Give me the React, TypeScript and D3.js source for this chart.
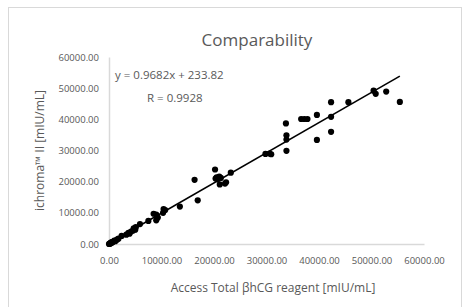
import * as d3 from 'd3';
import { useEffect, useRef } from 'react';

// Access Total βhCG (x) vs ichroma II (y), mIU/mL
const accessValues = [
    0, 100, 200, 300, 400, 500, 600, 800, 1000, 1200, 1500, 1800, 2400, 3300, 3700, 3900,
    4200, 4600, 4700, 5000, 5100, 5900, 7500, 8500, 9000, 9300, 9000, 10300, 10400, 10700, 13500,
    16300, 16900, 20200, 20300, 20500, 20700, 21000, 21300, 21100, 22100, 22300, 23200,
    29800, 30600, 30900,
    33700, 33800, 33800, 33800, 36600, 37200, 37800, 39600, 39600,
    42300, 42300, 42300, 45600, 50400, 50800, 52800, 55400,
];
const ichromaValues = [
    0, 150, 120, 400, 300, 600, 500, 700, 1100, 900, 1400, 1700, 2600, 3000, 3600, 3300,
    4000, 4300, 5000, 4600, 5400, 6400, 7400, 9700, 9400, 8500, 7600, 10000, 11200, 10900, 12000,
    20600, 14000, 23900, 21000, 21400, 20800, 21600, 21200, 19100, 19400, 19800, 22900,
    28900, 29000, 28800,
    38700, 34900, 33500, 29900, 40100, 40100, 40100, 41400, 33400,
    45500, 40800, 36000, 45500, 49200, 48200, 48900, 45600,
];
const tickValues = [0, 10000, 20000, 30000, 40000, 50000, 60000];
const slope = 0.9682;
const intercept = 233.82;
const rValue = 0.9928;

const font = "'Open Sans', sans-serif";
const textColor = '#595959';
const lineColor = '#d9d9d9';

export default function App() {
    const ref = useRef<SVGSVGElement | null>(null);

    useEffect(() => {
        const svg = d3.select(ref.current);
        svg.selectAll('*').remove();

        const width = 465;
        const height = 307;
        const margin = { top: 57, right: 41, bottom: 63, left: 109 };

        const x = d3.scaleLinear().domain([0, 60000]).range([margin.left, width - margin.right]);
        const y = d3.scaleLinear().domain([0, 60000]).range([height - margin.bottom, margin.top]);

        svg.attr('width', width).attr('height', height);

        svg.append('rect')
            .attr('x', 8.5).attr('y', 7.5)
            .attr('width', 453).attr('height', 310)
            .attr('fill', '#fff')
            .attr('stroke', lineColor);

        svg.append('text')
            .attr('x', 257).attr('y', 46)
            .attr('text-anchor', 'middle')
            .attr('font-family', font).attr('font-size', 17)
            .attr('fill', textColor)
            .text('Comparability');

        const xAxis = svg.append('g')
            .attr('transform', `translate(0,${height - margin.bottom})`)
            .call(d3.axisBottom(x).tickValues(tickValues).tickSize(0).tickPadding(13).tickFormat(d3.format('.2f')));
        const yAxis = svg.append('g')
            .attr('transform', `translate(${margin.left},0)`)
            .call(d3.axisLeft(y).tickValues(tickValues).tickSize(0).tickPadding(10).tickFormat(d3.format('.2f')));

        [xAxis, yAxis].forEach(g => {
            g.select('.domain').attr('stroke', lineColor).attr('stroke-width', 1.5);
            g.selectAll('text')
                .attr('font-family', font).attr('font-size', 9.5)
                .attr('fill', textColor);
        });

        svg.append('text')
            .attr('x', 273).attr('y', 292)
            .attr('text-anchor', 'middle')
            .attr('font-family', font).attr('font-size', 12)
            .attr('fill', textColor)
            .text('Access Total βhCG reagent [mIU/mL]');

        svg.append('text')
            .attr('transform', `translate(44,${(margin.top + height - margin.bottom) / 2}) rotate(-90)`)
            .attr('text-anchor', 'middle')
            .attr('font-family', font).attr('font-size', 12)
            .attr('fill', textColor)
            .text('ichroma™ II [mIU/mL]');

        const points = accessValues.map((v, i) => ({ a: v, b: ichromaValues[i] }));

        svg.append('g')
            .selectAll('circle')
            .data(points)
            .join('circle')
            .attr('cx', d => x(d.a))
            .attr('cy', d => y(d.b))
            .attr('r', 3.1)
            .attr('fill', '#000');

        const [xMin, xMax] = d3.extent(accessValues) as [number, number];
        const trend = d3.line<number>()
            .x(d => x(d))
            .y(d => y(slope * d + intercept));

        svg.append('path')
            .datum([xMin, xMax])
            .attr('fill', 'none')
            .attr('stroke', '#000')
            .attr('stroke-width', 1.6)
            .attr('d', trend);

        svg.append('text')
            .attr('x', 115).attr('y', 79)
            .attr('font-family', font).attr('font-size', 11.5)
            .attr('fill', textColor)
            .text(`y = ${slope}x + ${intercept}`);

        svg.append('text')
            .attr('x', 147).attr('y', 102)
            .attr('font-family', font).attr('font-size', 11.5)
            .attr('fill', textColor)
            .text(`R = ${rValue}`);
    }, []);

    return <svg ref={ref} style={{ position: 'absolute', left: 0, top: 0 }}></svg>;
}
